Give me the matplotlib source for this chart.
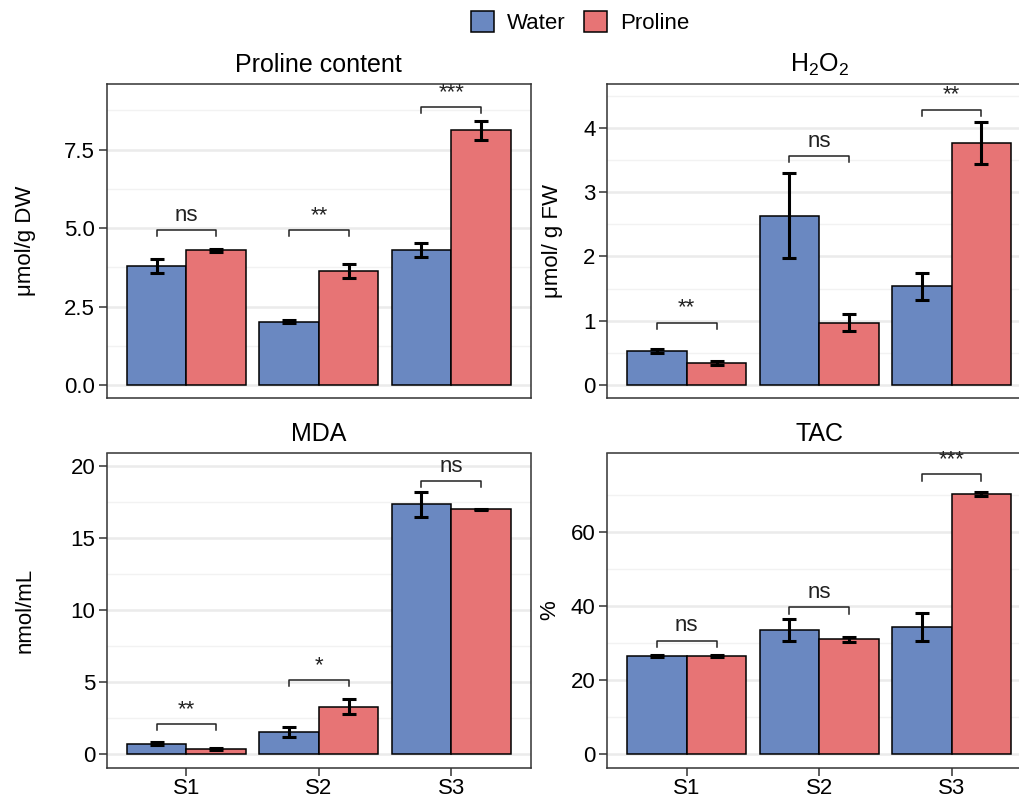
import matplotlib
matplotlib.use("Agg")
import matplotlib.pyplot as plt
from matplotlib.patches import Patch
from matplotlib.ticker import FixedLocator, FormatStrFormatter
import numpy as np

plt.rcParams['font.family'] = ['Liberation Sans', 'DejaVu Sans']
plt.rcParams['mathtext.default'] = 'regular'

groups = ["S1", "S2", "S3"]
treatments = ["Water", "Proline"]
colors = ["#6A88C1", "#E77475"]

# 各指标: 均值 / 误差 / 显著性
titles = ["Proline content", "H$_2$O$_2$", "MDA", "TAC"]
ylabels = ["μmol/g DW", "μmol/ g FW", "nmol/mL", "%"]

proline_water = [3.80, 2.02, 4.30]
proline_water_err = [0.22, 0.04, 0.22]
proline_pro = [4.29, 3.64, 8.12]
proline_pro_err = [0.04, 0.22, 0.30]
proline_sig = ["ns", "**", "***"]
proline_brk = [4.94, 4.94, 8.86]

h2o2_water = [0.53, 2.63, 1.54]
h2o2_water_err = [0.03, 0.66, 0.21]
h2o2_pro = [0.34, 0.97, 3.76]
h2o2_pro_err = [0.03, 0.13, 0.33]
h2o2_sig = ["**", "ns", "**"]
h2o2_brk = [0.97, 3.56, 4.28]

mda_water = [0.74, 1.57, 17.36]
mda_water_err = [0.10, 0.35, 0.87]
mda_pro = [0.37, 3.30, 16.99]
mda_pro_err = [0.05, 0.53, 0.05]
mda_sig = ["**", "*", "ns"]
mda_brk = [2.10, 5.15, 18.97]

tac_water = [26.6, 33.6, 34.4]
tac_water_err = [0.3, 3.0, 3.7]
tac_pro = [26.5, 31.1, 70.3]
tac_pro_err = [0.3, 0.7, 0.6]
tac_sig = ["ns", "ns", "***"]
tac_brk = [30.7, 39.7, 75.6]

panels = [
    (proline_water, proline_water_err, proline_pro, proline_pro_err, proline_sig, proline_brk),
    (h2o2_water, h2o2_water_err, h2o2_pro, h2o2_pro_err, h2o2_sig, h2o2_brk),
    (mda_water, mda_water_err, mda_pro, mda_pro_err, mda_sig, mda_brk),
    (tac_water, tac_water_err, tac_pro, tac_pro_err, tac_sig, tac_brk),
]
ylims = [(-0.41, 9.59), (-0.2, 4.68), (-0.93, 20.87), (-3.6, 81.2)]
major_ticks = [[0, 2.5, 5, 7.5], [0, 1, 2, 3, 4], [0, 5, 10, 15, 20], [0, 20, 40, 60]]
minor_ticks = [[1.25, 3.75, 6.25, 8.75], [0.5, 1.5, 2.5, 3.5, 4.5],
               [2.5, 7.5, 12.5, 17.5], [10, 30, 50, 70]]
fmts = ["%.1f", "%d", "%d", "%d"]

W, H = 1020, 805
fig = plt.figure(figsize=(W / 100, H / 100), dpi=100)

# 像素位置 (left, right, top, bottom)
boxes = [(107, 530.7, 84, 398), (607.3, 1031, 84, 398),
         (107, 530.7, 453.5, 767.7), (607.3, 1031, 453.5, 767.7)]
label_x = [-0.168, -0.104, -0.168, -0.112]

x = np.arange(1, 4)
bw = 0.45
for k, (l, r, t, b) in enumerate(boxes):
    ax = fig.add_axes([l / W, 1 - b / H, (r - l) / W, (b - t) / H])
    wv, we, pv, pe, sig, brk = panels[k]
    ax.bar(x - bw / 2, wv, bw, color=colors[0], edgecolor="black", linewidth=1.1, zorder=3)
    ax.bar(x + bw / 2, pv, bw, color=colors[1], edgecolor="black", linewidth=1.1, zorder=3)
    ax.errorbar(x - bw / 2, wv, yerr=we, fmt="none", ecolor="black", elinewidth=2.2,
                capsize=4.7, capthick=2.2, zorder=4)
    ax.errorbar(x + bw / 2, pv, yerr=pe, fmt="none", ecolor="black", elinewidth=2.2,
                capsize=4.7, capthick=2.2, zorder=4)

    y0, y1 = ylims[k]
    drop = 0.02 * (y1 - y0)
    for i in range(3):
        xa, xb = x[i] - bw / 2, x[i] + bw / 2
        ax.plot([xa, xa, xb, xb], [brk[i] - drop, brk[i], brk[i], brk[i] - drop],
                color="#222222", linewidth=1.1, zorder=5)
        ax.annotate(sig[i], (x[i], brk[i]), xytext=(0, 3), textcoords="offset points",
                    ha="center", va="bottom", fontsize=16, color="#222222")

    ax.set_xlim(0.4, 3.6)
    ax.set_ylim(y0, y1)
    ax.yaxis.set_major_locator(FixedLocator(major_ticks[k]))
    ax.yaxis.set_minor_locator(FixedLocator(minor_ticks[k]))
    ax.yaxis.set_major_formatter(FormatStrFormatter(fmts[k]))
    ax.grid(axis="y", which="major", color="#EBEBEB", linewidth=1.8, zorder=0)
    ax.grid(axis="y", which="minor", color="#F2F2F2", linewidth=1.0, zorder=0)
    ax.set_axisbelow(True)
    for s in ax.spines.values():
        s.set_color("#333333")
        s.set_linewidth(1.1)
    ax.tick_params(axis="y", which="major", labelsize=16, length=5.5, width=1.1,
                   color="#333333", pad=3)
    ax.tick_params(axis="y", which="minor", length=0)
    if k >= 2:
        ax.set_xticks(x)
        ax.set_xticklabels(groups)
        ax.tick_params(axis="x", labelsize=16, length=5.5, width=1.1, color="#333333", pad=2)
    else:
        ax.set_xticks([])
    ax.set_title(titles[k], fontsize=18, pad=9)
    ax.set_ylabel(ylabels[k], fontsize=16)
    ax.yaxis.set_label_coords(label_x[k], 0.5)

handles = [Patch(facecolor=colors[j], edgecolor="black", linewidth=1.1) for j in range(2)]
fig.legend(handles, treatments, loc="center", bbox_to_anchor=(580 / W, 1 - 22.5 / H),
           ncol=2, frameon=False, fontsize=16, handlelength=1.05, handleheight=1.05,
           handletextpad=0.55, columnspacing=0.85)

fig.savefig("out.png", dpi=100)
